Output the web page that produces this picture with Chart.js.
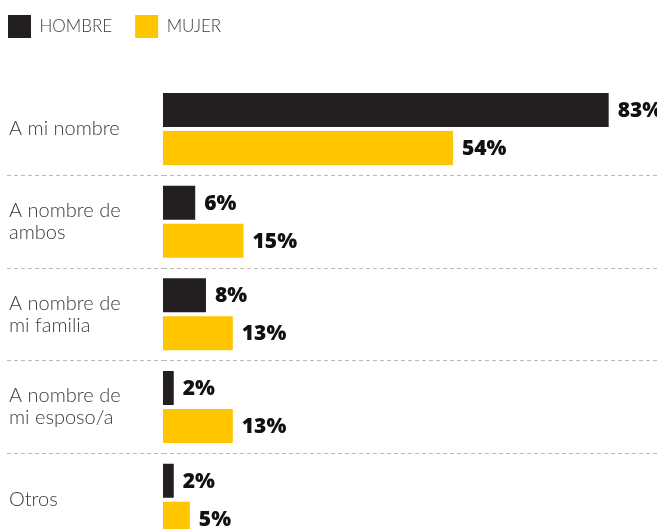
<!DOCTYPE html>
<html><head><meta charset="utf-8">
<script src="https://cdn.jsdelivr.net/npm/chart.js@4/dist/chart.umd.min.js"></script>
<style>html,body{margin:0;padding:0;background:#fff;overflow:hidden}
canvas{position:absolute;left:0;top:0}</style>
</head><body><canvas id="c" width="657" height="546"></canvas>
<script>
const categories = [["A mi nombre"], ["A nombre de", "ambos"], ["A nombre de", "mi familia"], ["A nombre de", "mi esposo/a"], ["Otros"]];
const seriesNames = ["HOMBRE", "MUJER"];
const hombre = [83, 6, 8, 2, 2];
const mujer = [54, 15, 13, 13, 5];
const valueSuffix = "%";
const axisMax = 92;

const colors = ["#231f20", "#ffc600"];
const gridColor = (c) => (c.index === 0 ? "rgba(0,0,0,0)" : "#b8b8b8");

const legendShift = {
  id: "legendShift",
  afterLayout(chart) {
    const l = chart.legend;
    if (!l) return;
    l.left -= 24; l.right -= 24; l.top -= 8; l.bottom -= 8;
  }
};

const valueLabels = {
  id: "valueLabels",
  afterDatasetsDraw(chart) {
    const ctx = chart.ctx;
    ctx.save();
    ctx.font = '800 21px "Open Sans"';
    ctx.fillStyle = "#111";
    ctx.textBaseline = "middle";
    ctx.textAlign = "left";
    chart.data.datasets.forEach((ds, i) => {
      const meta = chart.getDatasetMeta(i);
      meta.data.forEach((bar, j) => {
        ctx.fillText(ds.data[j] + valueSuffix, bar.x + 9, bar.y + 1);
      });
    });
    ctx.restore();
  }
};

new Chart(document.getElementById("c"), {
  type: "bar",
  data: {
    labels: categories,
    datasets: [
      { label: seriesNames[0], data: hombre, backgroundColor: colors[0], borderWidth: 0, categoryPercentage: 0.8207, barPercentage: 0.8947 },
      { label: seriesNames[1], data: mujer, backgroundColor: colors[1], borderWidth: 0, categoryPercentage: 0.8207, barPercentage: 0.8947 }
    ]
  },
  options: {
    indexAxis: "y",
    responsive: false,
    animation: false,
    layout: { padding: { left: 9, right: 0, top: 0, bottom: 0 } },
    plugins: {
      tooltip: { enabled: false },
      legend: {
        position: "top",
        align: "start",
        labels: {
          boxWidth: 23, boxHeight: 23, padding: 23,
          color: "#3a3a3a",
          font: { family: 'Lato, "Open Sans"', size: 17, weight: "300" }
        }
      }
    },
    scales: {
      x: {
        position: "top",
        min: 0, max: axisMax,
        ticks: { display: false },
        grid: { display: false },
        border: { display: false },
        afterFit(s) { s.height = 26.7; }
      },
      y: {
        offset: true,
        ticks: {
          crossAlign: "far",
          color: "#3a3a3a",
          padding: 0,
          font: { family: 'Lato, "Open Sans"', size: 20, weight: "300", lineHeight: 1.1 }
        },
        grid: {
          offset: true,
          color: gridColor,
          tickColor: gridColor,
          lineWidth: 1,
          tickWidth: 1,
          tickBorderDash: [4, 3],
          drawTicks: true,
          tickLength: 156
        },
        border: { display: false, dash: [4, 3] },
        afterFit(s) { s.width = 154; s.paddingTop = 0; s.paddingBottom = 0; }
      }
    }
  },
  plugins: [legendShift, valueLabels]
});
</script></body></html>
